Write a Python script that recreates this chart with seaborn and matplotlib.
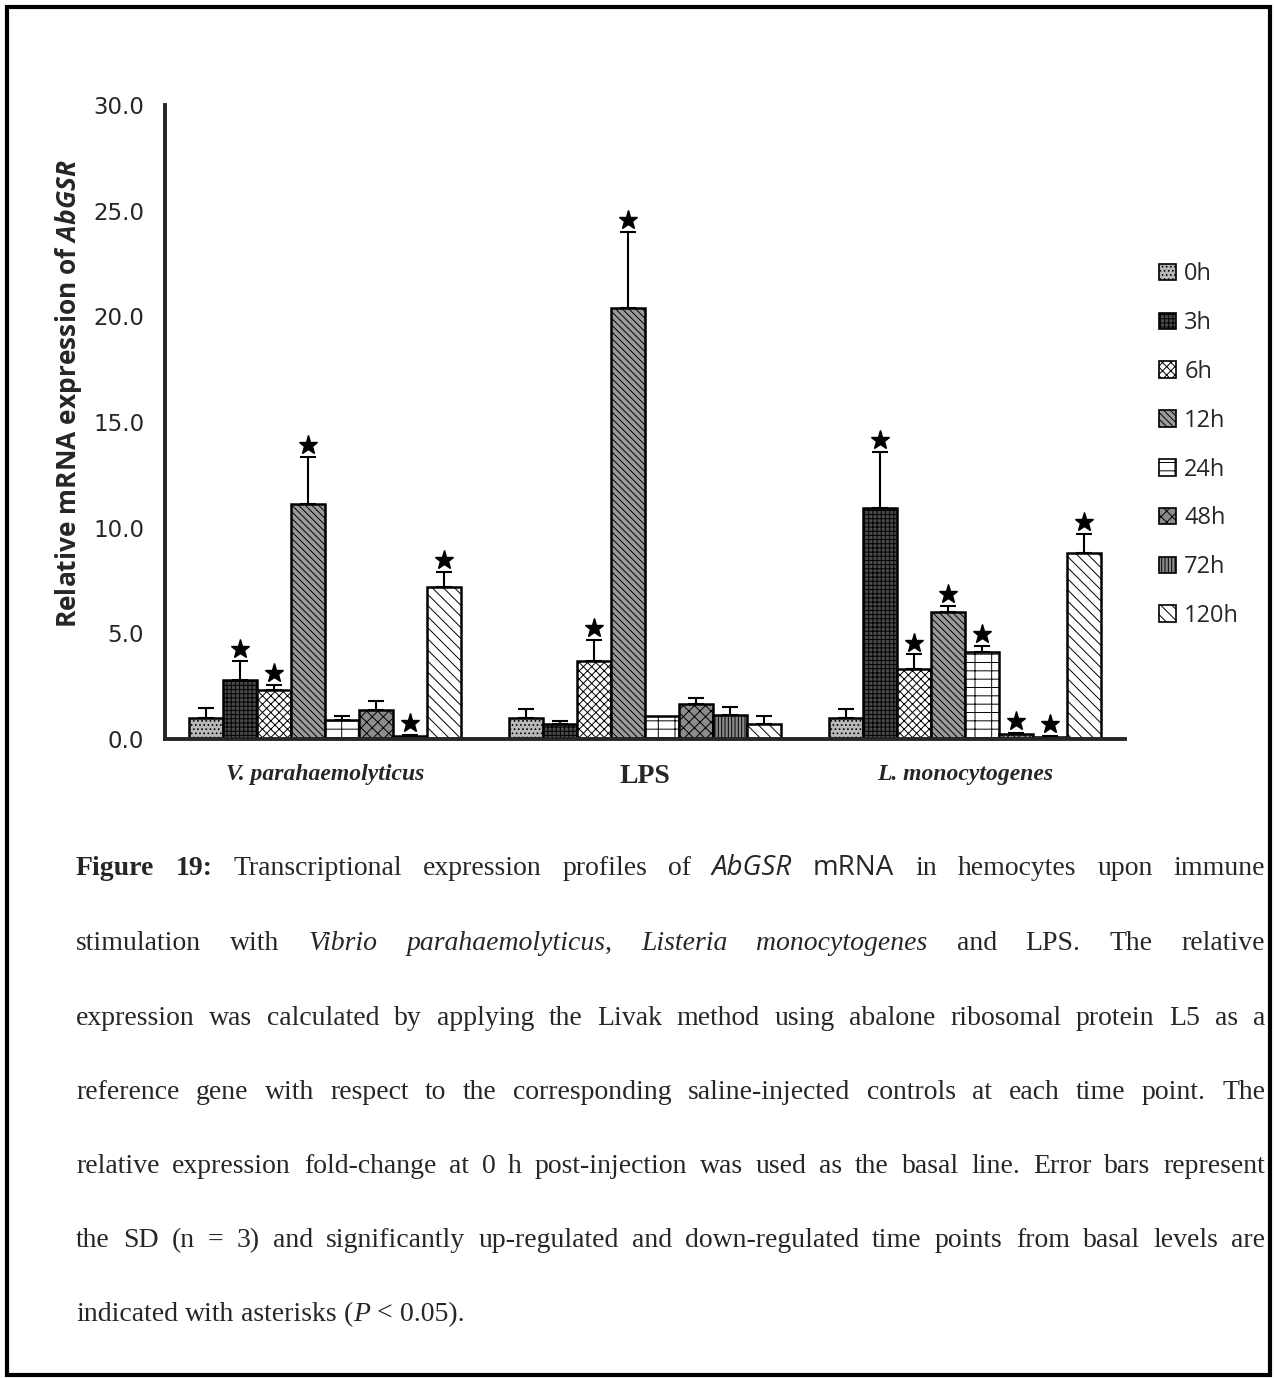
import numpy as np
import pandas as pd
import matplotlib
matplotlib.use('Agg')
import matplotlib.pyplot as plt
import seaborn as sns
from matplotlib.patches import Patch, Rectangle
from matplotlib.ticker import MultipleLocator, FixedLocator, NullFormatter

# Данные
groups = ['V. parahaemolyticus', 'LPS', 'L. monocytogenes']
times = ['0h', '3h', '6h', '12h', '24h', '48h', '72h', '120h']

vibrio_mean = [1.0, 2.8, 2.3, 11.1, 0.9, 1.35, 0.15, 7.2]
vibrio_sd = [0.45, 0.9, 0.25, 2.25, 0.2, 0.45, 0.05, 0.7]
vibrio_sig = [0, 1, 1, 1, 0, 0, 1, 1]

lps_mean = [1.0, 0.7, 3.7, 20.4, 1.1, 1.65, 1.15, 0.7]
lps_sd = [0.4, 0.15, 1.0, 3.6, 0.0, 0.3, 0.35, 0.4]
lps_sig = [0, 0, 1, 1, 0, 0, 0, 0]

listeria_mean = [1.0, 10.95, 3.3, 6.0, 4.1, 0.25, 0.1, 8.8]
listeria_sd = [0.4, 2.65, 0.7, 0.3, 0.3, 0.05, 0.05, 0.9]
listeria_sig = [0, 1, 1, 1, 1, 1, 1, 1]

face_colors = ['#b8b8b8', '#4a4a4a', '#ffffff', '#9a9a9a', '#ffffff', '#8c8c8c', '#8a8a8a', '#ffffff']
hatches = ['....', '++++', 'xxxx', '\\\\\\\\\\', '--|', 'xxx', '|||||', '\\\\\\']

rows = []
for g, m, s, sig in [(groups[0], vibrio_mean, vibrio_sd, vibrio_sig),
                     (groups[1], lps_mean, lps_sd, lps_sig),
                     (groups[2], listeria_mean, listeria_sd, listeria_sig)]:
    for t, mv, sv, gv in zip(times, m, s, sig):
        rows.append({'group': g, 'time': t, 'value': mv, 'sd': sv, 'sig': gv})
df = pd.DataFrame(rows)

sns.set_style('white')
plt.rcParams['font.family'] = ['DejaVu Sans']
plt.rcParams['hatch.linewidth'] = 0.7
plt.rcParams['mathtext.fontset'] = 'custom'
plt.rcParams['mathtext.it'] = 'Open Sans:italic:bold'
plt.rcParams['mathtext.rm'] = 'Open Sans:bold'

W, H = 1275, 1378
fig = plt.figure(figsize=(W / 100, H / 100), dpi=100)
ax = fig.add_axes([165 / W, 1 - 739 / H, (1125 - 165) / W, (739 - 105) / H])

palette = dict(zip(times, face_colors))
sns.barplot(data=df, x='group', y='value', hue='time', order=groups, hue_order=times,
            palette=palette, width=0.85, edgecolor='black', linewidth=1.8,
            errorbar=None, legend=False, ax=ax)

# штриховки, планки погрешностей и звёздочки
bar_containers = list(ax.containers)
for ci, cont in enumerate(bar_containers):
    t = times[ci]
    sub = df[df['time'] == t].set_index('group').loc[groups]
    for gi, bar in enumerate(cont.patches):
        bar.set_hatch(hatches[ci])
        x = bar.get_x() + bar.get_width() / 2
        y = sub['value'].iloc[gi]
        e = sub['sd'].iloc[gi]
        if e > 0:
            ax.errorbar(x, y, yerr=[[0], [e]], fmt='none', ecolor='black',
                        elinewidth=1.5, capsize=5.5, capthick=1.5, zorder=1)
        if sub['sig'].iloc[gi]:
            ax.plot(x, y + e + 0.55, marker='*', color='black', markersize=14, zorder=5)

ax.set_xlim(-0.5, 2.5)
ax.set_ylim(0, 30)
sns.despine(ax=ax)
for sp in ['left', 'bottom']:
    ax.spines[sp].set_linewidth(2.8)

ax.yaxis.set_minor_locator(MultipleLocator(1))
ax.set_yticks(np.arange(0, 31, 5))
ax.set_yticklabels([f'{v:.1f}' for v in np.arange(0, 31, 5)], fontsize=16.5)
ax.tick_params(axis='y', which='major', direction='inout', length=10, width=2.2, pad=10)
ax.tick_params(axis='y', which='minor', direction='out', length=6, width=2)

ax.xaxis.set_major_locator(FixedLocator([-0.5, 0.5, 1.5, 2.5]))
ax.xaxis.set_major_formatter(NullFormatter())
ax.xaxis.set_minor_locator(FixedLocator([0, 1, 2]))
ax.set_xticklabels(groups, minor=True)
ax.tick_params(axis='x', which='major', direction='out', length=10, width=2.8)
ax.tick_params(axis='x', which='minor', length=0, pad=18)
xlab_styles = ['italic', 'normal', 'italic']
xlab_sizes = [17, 20, 17]
for lab, st, fs in zip(ax.get_xticklabels(minor=True), xlab_styles, xlab_sizes):
    lab.set_fontfamily('Liberation Serif')
    lab.set_fontweight('bold')
    lab.set_fontstyle(st)
    lab.set_fontsize(fs)
ax.set_xlabel('')

ax.set_ylabel('Relative mRNA expression of $AbGSR$', fontsize=19, fontweight='bold',
              fontfamily='Open Sans')
ax.yaxis.set_label_coords(-0.084, (739 - 394) / 634)

# легенда с ручными маркерами
handles = [Patch(facecolor=c, edgecolor='black', hatch=h, linewidth=1.2, label=t)
           for c, h, t in zip(face_colors, hatches, times)]
fig.legend(handles=handles, loc='upper left', bbox_to_anchor=(1150 / W, 1 - 253 / H),
           frameon=False, prop={'family': 'Open Sans', 'size': 17}, handlelength=0.7,
           handleheight=0.7, handletextpad=0.35, labelspacing=1.05, borderaxespad=0)

# подпись к рисунку с выравниванием по ширине
caption = [
    [[('Figure', 'b')], [('19:', 'b')], [('Transcriptional', 'r')], [('expression', 'r')],
     [('profiles', 'r')], [('of', 'r')], [('AbGSR', 'si')], [('mRNA', 's')], [('in', 'r')],
     [('hemocytes', 'r')], [('upon', 'r')], [('immune', 'r')]],
    [[('stimulation', 'r')], [('with', 'r')], [('Vibrio', 'i')], [('parahaemolyticus', 'i'), (',', 'r')],
     [('Listeria', 'i')], [('monocytogenes', 'i')], [('and', 'r')], [('LPS.', 'r')], [('The', 'r')],
     [('relative', 'r')]],
    [[(w, 'r')] for w in 'expression was calculated by applying the Livak method using abalone ribosomal protein L5 as a'.split()],
    [[(w, 'r')] for w in 'reference gene with respect to the corresponding saline-injected controls at each time point. The'.split()],
    [[(w, 'r')] for w in 'relative expression fold-change at 0 h post-injection was used as the basal line. Error bars represent'.split()],
    [[(w, 'r')] for w in 'the SD (n = 3) and significantly up-regulated and down-regulated time points from basal levels are'.split()],
    [[('indicated', 'r')], [('with', 'r')], [('asterisks', 'r')], [('(', 'r'), ('P', 'i')], [('<', 'r')],
     [('0.05).', 'r')]],
]
styles = {
    'r': dict(family='Liberation Serif'),
    'b': dict(family='Liberation Serif', weight='bold'),
    'i': dict(family='Liberation Serif', style='italic'),
    's': dict(family='Open Sans'),
    'si': dict(family='Open Sans', style='italic'),
}
cap_size = 20
renderer = fig.canvas.get_renderer()


def seg_width(text, st):
    t = fig.text(0, 0, text, fontsize=cap_size, **styles[st])
    w = t.get_window_extent(renderer).width
    t.remove()
    return w


space_w = seg_width('a a', 'r') - 2 * seg_width('a', 'r')
x_left, x_right = 76, 1265
baselines = [875, 950, 1025, 1099, 1173, 1247, 1321]
for li, line in enumerate(caption):
    widths = [[seg_width(s, st) for s, st in word] for word in line]
    total = sum(sum(w) for w in widths)
    if li < len(caption) - 1:
        gap = (x_right - x_left - total) / (len(line) - 1)
    else:
        gap = space_w
    x = x_left
    for word, ws in zip(line, widths):
        for (s, st), w in zip(word, ws):
            fig.text(x / W, 1 - baselines[li] / H, s, fontsize=cap_size, va='baseline', ha='left',
                     **styles[st])
            x += w
        x += gap

fig.patches.append(Rectangle((7 / W, 3 / H), 1 - 12 / W, 1 - 10 / H, transform=fig.transFigure,
                             fill=False, edgecolor='black', linewidth=3))

fig.savefig('out.png', dpi=100)
